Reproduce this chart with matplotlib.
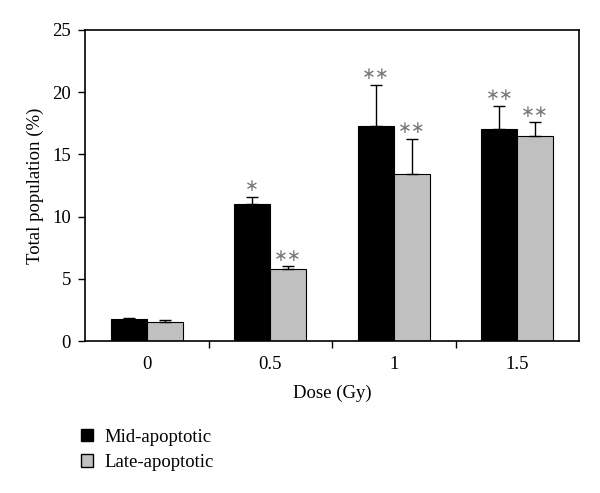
import matplotlib
matplotlib.use("Agg")
import matplotlib.pyplot as plt
import numpy as np
from matplotlib.patches import Patch

plt.rcParams['font.family'] = ['Liberation Serif', 'DejaVu Serif']

doses = ["0", "0.5", "1", "1.5"]
mid_vals = [1.75, 11.0, 17.3, 17.05]
mid_err = [0.1, 0.6, 3.3, 1.85]
late_vals = [1.53, 5.8, 13.45, 16.5]
late_err = [0.18, 0.2, 2.8, 1.1]
mid_stars = ["", "*", "**", "**"]
late_stars = ["", "**", "**", "**"]
series_names = ["Mid-apoptotic", "Late-apoptotic"]

FS = 13.5

fig = plt.figure(figsize=(6.0, 4.93), dpi=100)
ax = fig.add_axes([85/600, 1-341/493, (579-85)/600, (341-30)/493])

x = np.arange(len(doses))
w = 0.29
ax.bar(x - w/2, mid_vals, w, color="black", edgecolor="black", linewidth=0.8, zorder=2)
ax.bar(x + w/2, late_vals, w, color="#c0c0c0", edgecolor="black", linewidth=0.8, zorder=2)
ax.errorbar(x - w/2, mid_vals, yerr=[np.zeros(len(x)), mid_err], fmt="none",
            ecolor="black", elinewidth=1, capsize=4, capthick=1, zorder=3)
ax.errorbar(x + w/2, late_vals, yerr=[np.zeros(len(x)), late_err], fmt="none",
            ecolor="black", elinewidth=1, capsize=4, capthick=1, zorder=3)

for xs, vals, errs, stars in ((x - w/2, mid_vals, mid_err, mid_stars),
                              (x + w/2, late_vals, late_err, late_stars)):
    for xi, v, e, s in zip(xs, vals, errs, stars):
        if s:
            ax.annotate(s.replace("*", "∗"), (xi, v + e), xytext=(0, 1),
                        textcoords="offset points", ha="center", va="bottom",
                        fontsize=12, color="#777777", family=["DejaVu Sans"])

ax.set_xlim(-0.5, len(doses) - 0.5)
ax.set_ylim(0, 25)
ax.set_yticks([0, 5, 10, 15, 20, 25])
ax.set_xticks(x)
ax.set_xticklabels(doses)
ax.set_xticks(np.arange(-0.5, len(doses), 1.0)[1:-1], minor=True)
ax.tick_params(axis="x", which="major", length=0, labelsize=FS, pad=11)
ax.tick_params(axis="x", which="minor", length=5, direction="out", width=1)
ax.tick_params(axis="y", length=5, direction="out", width=1, labelsize=FS, pad=5)
for sp in ax.spines.values():
    sp.set_linewidth(1.2)

ax.set_xlabel("Dose (Gy)", fontsize=FS, labelpad=8)
ax.set_ylabel("Total population (%)", fontsize=FS, labelpad=6)

handles = [Patch(facecolor="black", edgecolor="black"),
           Patch(facecolor="#c0c0c0", edgecolor="black")]
fig.legend(handles, series_names, loc="upper left", bbox_to_anchor=(73/600, 1-421/493),
           frameon=False, fontsize=FS, handlelength=0.65, handleheight=0.65,
           handletextpad=0.65, labelspacing=0.46, borderaxespad=0)

fig.savefig("out.png", dpi=100)
